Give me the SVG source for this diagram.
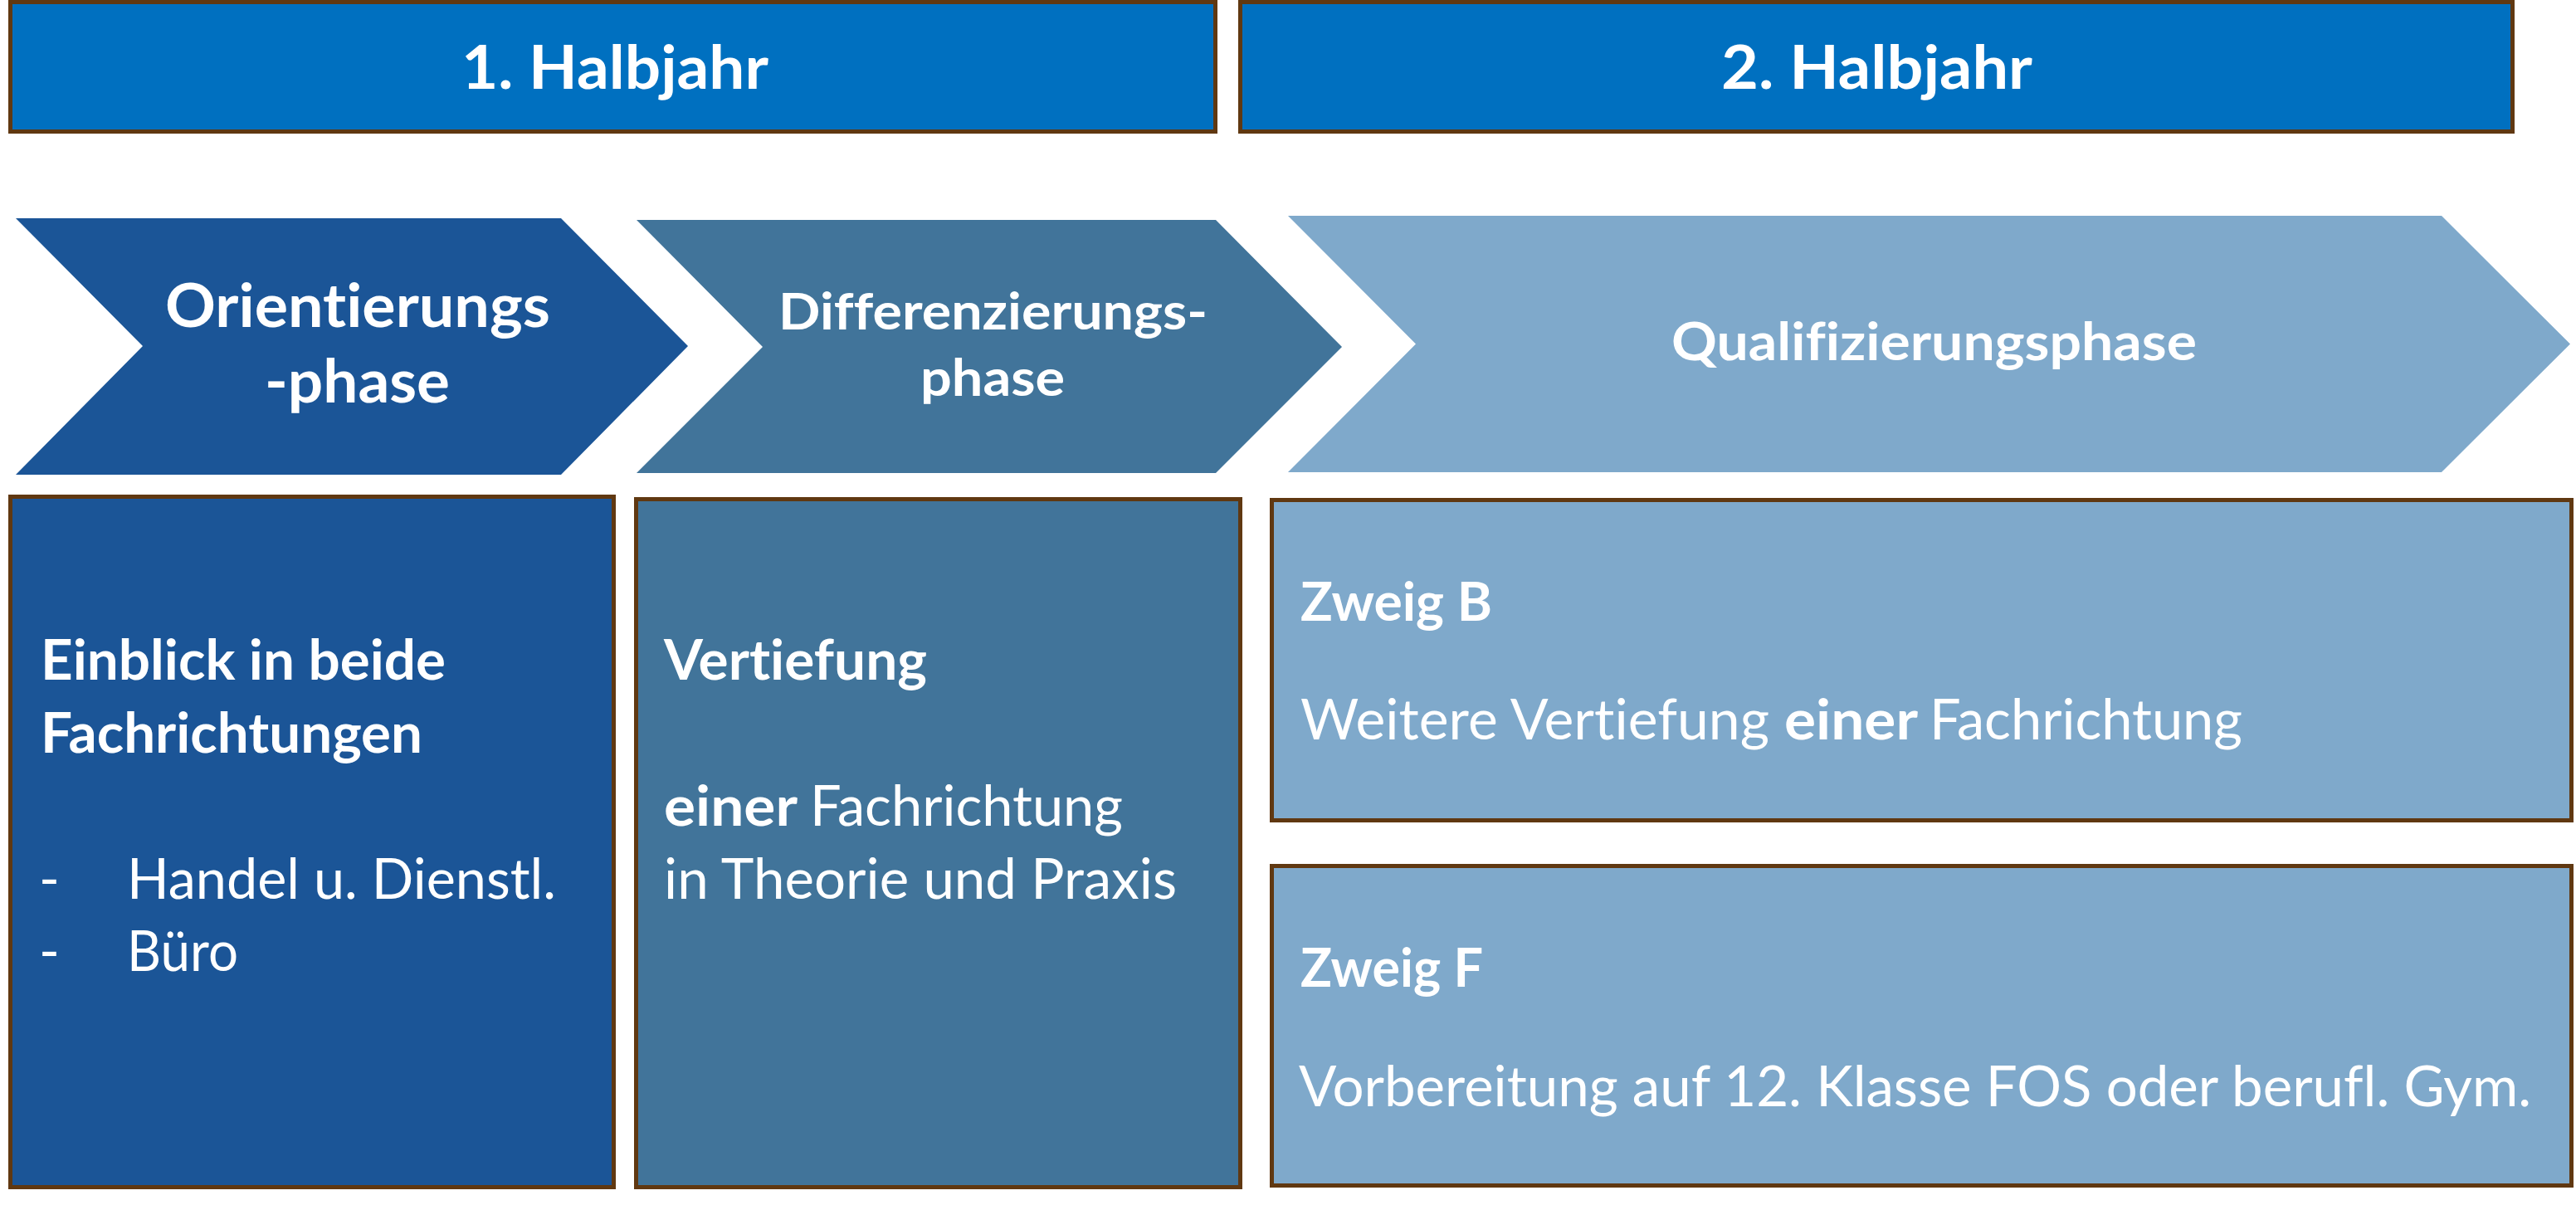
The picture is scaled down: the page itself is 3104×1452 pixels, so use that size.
<svg xmlns="http://www.w3.org/2000/svg" width="3104" height="1452" viewBox="0 0 3104 1452">
<style>
text{font-family:"Lato","Open Sans",sans-serif;fill:#FFFFFF;font-variant-ligatures:none;font-feature-settings:"liga" 0,"dlig" 0}
.b{font-weight:700}
.r{font-weight:400}
.bar{fill:#0070C0;stroke:#603811;stroke-width:5}
.box{stroke:#603811;stroke-width:5}
.c1{fill:#1B5597}
.c2{fill:#41749A}
.c3{fill:#7FA9CB}
.h{font-size:73px}
.t{font-size:67px}
</style>
<rect width="3104" height="1452" fill="#FFFFFF"/>
<g id="halbjahr1">
<rect class="bar" x="12.5" y="2.5" width="1452" height="156"/>
<text class="b h" x="556" y="107" textLength="370" lengthAdjust="spacingAndGlyphs">1. Halbjahr</text>
</g>
<g id="halbjahr2">
<rect class="bar" x="1494.5" y="2.5" width="1533" height="156"/>
<text class="b h" x="2074" y="107" textLength="375" lengthAdjust="spacingAndGlyphs">2. Halbjahr</text>
</g>
<g id="orientierungsphase">
<polygon class="c1" points="19,263 676,263 829,417 676,572 19,572 172,417"/>
<text class="b h" x="199" y="394" textLength="464" lengthAdjust="spacingAndGlyphs">Orientierungs</text>
<text class="b h" x="319" y="485" textLength="223" lengthAdjust="spacingAndGlyphs">-phase</text>
</g>
<g id="differenzierungsphase">
<polygon class="c2" points="767,265 1465,265 1617,418 1465,570 767,570 919,418"/>
<text class="b" font-size="62" x="938" y="397" textLength="517" lengthAdjust="spacingAndGlyphs">Differenzierungs-</text>
<text class="b" font-size="62" x="1109" y="477" textLength="174" lengthAdjust="spacingAndGlyphs">phase</text>
</g>
<g id="qualifizierungsphase">
<polygon class="c3" points="1552,260 2942,260 3097,414.5 2942,569 1552,569 1706,414.5"/>
<text class="b" font-size="63" x="2014" y="434" textLength="633" lengthAdjust="spacingAndGlyphs">Qualifizierungsphase</text>
</g>
<g id="box-orientierung">
<rect class="box c1" x="12.5" y="598.5" width="727" height="832"/>
<text class="b t" x="49" y="819" textLength="488" lengthAdjust="spacingAndGlyphs">Einblick in beide</text>
<text class="b t" x="49" y="907" textLength="460" lengthAdjust="spacingAndGlyphs">Fachrichtungen</text>
<text class="r t" x="47" y="1083">-</text>
<text class="r t" x="153" y="1083" textLength="517" lengthAdjust="spacingAndGlyphs">Handel u. Dienstl.</text>
<text class="r t" x="47" y="1170">-</text>
<text class="r t" x="153" y="1170" textLength="134" lengthAdjust="spacingAndGlyphs">Büro</text>
</g>
<g id="box-differenzierung">
<rect class="box c2" x="766.5" y="601.5" width="728" height="829"/>
<text class="b t" x="800" y="819" textLength="317" lengthAdjust="spacingAndGlyphs">Vertiefung</text>
<text class="t" y="995"><tspan class="b" x="800" textLength="161" lengthAdjust="spacingAndGlyphs">einer</tspan><tspan class="r" x="976" textLength="377" lengthAdjust="spacingAndGlyphs">Fachrichtung</tspan></text>
<text class="r t" x="800" y="1083" textLength="618" lengthAdjust="spacingAndGlyphs">in Theorie und Praxis</text>
</g>
<g id="box-zweig-b">
<rect class="box c3" x="1532.5" y="602.5" width="1566" height="386"/>
<text class="b" font-size="65" x="1567" y="748" textLength="231" lengthAdjust="spacingAndGlyphs">Zweig B</text>
<text class="t" y="891"><tspan class="r" x="1567" textLength="565" lengthAdjust="spacingAndGlyphs">Weitere Vertiefung</tspan><tspan class="b" x="2150" textLength="161" lengthAdjust="spacingAndGlyphs">einer</tspan><tspan class="r" x="2325" textLength="377" lengthAdjust="spacingAndGlyphs">Fachrichtung</tspan></text>
</g>
<g id="box-zweig-f">
<rect class="box c3" x="1532.5" y="1043.5" width="1566" height="385"/>
<text class="b" font-size="65" x="1567" y="1189" textLength="220" lengthAdjust="spacingAndGlyphs">Zweig F</text>
<text class="r t" x="1565" y="1333" textLength="1485" lengthAdjust="spacingAndGlyphs">Vorbereitung auf 12. Klasse FOS oder berufl. Gym.</text>
</g>
<g id="connectors"></g>
</svg>
